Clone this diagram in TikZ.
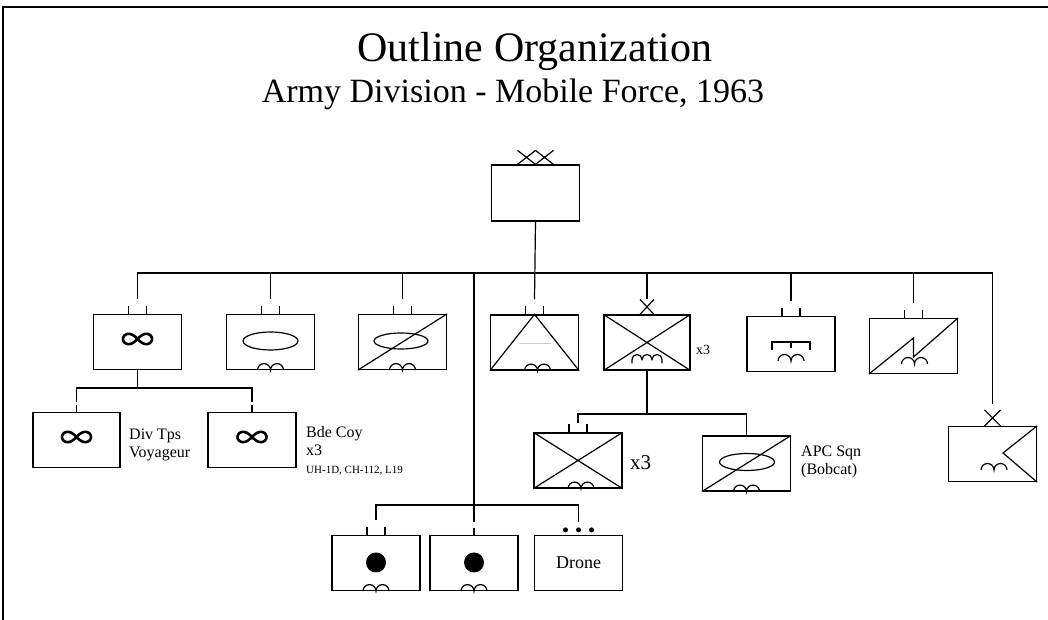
\documentclass[tikz,border=0pt]{standalone}
\usepackage{fontspec}
\setmainfont{Liberation Serif}
\usetikzlibrary{calc}

\tikzset{
  unit/.style={draw, line width=1.2pt, minimum width=88pt, minimum height=55pt, inner sep=0pt},
  link/.style={line width=1.2pt},
  note/.style={anchor=west, align=left, inner sep=0pt, font=\fontsize{16}{18}\selectfont},
}

% two small arches (wheels), offset from a node anchor
\newcommand{\wheels}[3]{%
  \draw[link] ($(#1)+(#2-13,#3)$) arc[start angle=180,end angle=0,radius=6.5]
    arc[start angle=180,end angle=0,radius=6.5];}
% aviation sign
\newcommand{\avnmark}[1]{%
  \draw[line width=2.6pt, shift={($(#1)+(0,3)$)}] plot[domain=0:360, samples=73, smooth]
    ({14.5*cos(\x)/(1+sin(\x)*sin(\x))}, {14.5*sin(\x)*cos(\x)/(1+sin(\x)*sin(\x))});}
% echelon marks on top of a box
\newcommand{\bnmark}[1]{%
  \draw[link] ($(#1.north)+(-9,0)$) -- ++(0,8) ($(#1.north)+(9,0)$) -- ++(0,8);}
\newcommand{\coymark}[1]{\draw[link] (#1.north) -- ++(0,7);}
\newcommand{\bdemark}[1]{%
  \draw[link] ($(#1.north)+(-7,0)$) -- ++(14,15) ($(#1.north)+(7,0)$) -- ++(-14,15);}

\begin{document}
\begin{tikzpicture}[x=1pt,y=1pt]
\useasboundingbox (0,0) rectangle (1048,620);
\draw[line width=2pt] (3,0) -- (3,613) -- (1048,613);

% titles
\node (t1) [font=\fontsize{42}{42}\selectfont, anchor=base] at (535,558) {Outline Organization};
\node (t2) [font=\fontsize{34}{34}\selectfont, anchor=base] at (513,517) {Army Division - Mobile Force, 1963};

% boxes
\node (hq) [unit, minimum height=56pt] at (535.5,427) {};
\node (a) [unit] at (137.5,278) {};
\node (b) [unit] at (270.5,278) {};
\node (c) [unit] at (402.5,278) {};
\node (d) [unit] at (534.5,277.5) {};
\node (e) [unit, minimum width=86pt] at (647,277.5) {};
\node (f) [unit] at (791,276) {};
\node (g) [unit] at (913.5,274) {};
\node (h) [unit] at (992.5,166) {};
\node (a1) [unit, minimum width=87pt] at (76.5,180) {};
\node (a2) [unit] at (252,180) {};
\node (e1) [unit] at (578,159.5) {};
\node (e2) [unit] at (746.5,156.5) {};
\node (r1) [unit] at (376,57) {};
\node (r2) [unit] at (474,57) {};
\node (r3) [unit, font=\fontsize{18}{18}\selectfont] at (578.5,57) {Drone};

% symbols
\avnmark{a}
\avnmark{a1}
\avnmark{a2}
\draw[link] ($(b)+(0,1)$) ellipse [x radius=27.5, y radius=9];
\wheels{b.south}{0}{0}
\draw[link] ($(c)+(-1.5,1)$) ellipse [x radius=27, y radius=8];
\draw[link] (c.south west) -- (c.north east);
\wheels{c.south}{0}{0}
\draw[link] (d.south west) -- (d.north) -- (d.south east);
\draw[gray!40] ($(d)+(-16,-1)$) -- ($(d)+(16,-1)$);
\wheels{d.south}{3}{0}
\draw[link] (e.south west) -- (e.north east) (e.north west) -- (e.south east);
\draw[link] ($(e)+(-15,-21)$) -- ++(0,4) arc[start angle=180,end angle=0,radius=5]
  arc[start angle=180,end angle=0,radius=5] arc[start angle=180,end angle=0,radius=5] -- ++(0,-4);
\draw[link] ($(f)+(-19,-6)$) -- ++(0,8) -- ++(38,0) -- ++(0,-8);
\draw[link] ($(f)+(0,2)$) -- ++(0,-6);
\wheels{f}{0}{-17}
\draw[link] (g.south west) -- ($(g)+(0,8)$) -- ($(g)+(0,-11)$) -- (g.north east);
\wheels{g}{1}{-18}
\draw[link] (h.north east) -- ($(h)+(10.5,1)$) -- (h.south east);
\wheels{h}{1.5}{-16}
\draw[link] (e1.south west) -- (e1.north east) (e1.north west) -- (e1.south east);
\wheels{e1.south}{3}{0}
\draw[link] ($(e2)+(0.5,1.5)$) ellipse [x radius=27.5, y radius=8.5];
\draw[link] (e2.south west) -- (e2.north east);
\wheels{e2.south}{0}{0}
\fill ($(r1)+(0,0.5)$) circle (10);
\wheels{r1.south}{0}{0}
\fill ($(r2)+(0,0.5)$) circle (10);
\wheels{r2.south}{0}{0}

% echelon marks
\draw[link] ($(hq.north)+(-18,0)$) -- ++(18,14) (hq.north) -- ++(-18,14)
  (hq.north) -- ++(18,14) ($(hq.north)+(18,0)$) -- ++(-18,14);
\foreach \n in {a,b,c,d,f,g,r1} {\bnmark{\n}}
\bdemark{e}
\draw[link] ($(h.north)+(-8,0)$) -- ++(16,16) ($(h.north)+(8,0)$) -- ++(-16,16);
\bnmark{e1}
\coymark{a1}
\coymark{a2}
\coymark{r2}
\foreach \dx in {-13,0,13} {\fill ($(r3.north)+(\dx,5)$) circle (2.5);}

% connector ends
\foreach \n in {a,b,c,d,f,g,r1} {\coordinate (\n-e) at ($(\n.north)+(0,15)$);}
\coordinate (e-e) at ($(e.north)+(0,15)$);
\coordinate (h-e) at ($(h.north)+(0,22)$);
\coordinate (e1-e) at ($(e1.north)+(0,9)$);
\coordinate (a1-e) at ($(a1.north)+(0,10)$);
\coordinate (a2-e) at ($(a2.north)+(0,10)$);
\coordinate (r2-e) at ($(r2.north)+(0,12.5)$);
\coordinate (r3-e) at ($(r3.north)+(0,13)$);
\coordinate (bus) at (992.5,347);
\coordinate (abus) at (137.5,232);
\coordinate (ebus) at (647,206);
\coordinate (rbus) at (474,115);

% connectors
\draw[link] (hq.south) -- (d-e);
\draw[link] (a-e) |- (bus) -- (h-e);
\foreach \n in {b,c,e,f,g} {\draw[link] (\n-e) -- (\n-e |- bus);}
\draw[link] (r2-e |- bus) -- (r2-e);
\draw[link] (r1-e) |- (r3-e |- rbus) -- (r3-e);
\draw[link] (a.south) -- (abus);
\draw[link] (a1-e) |- (a2-e |- abus) -- (a2-e);
\draw[link] (e.south) -- (ebus);
\draw[link] (e1-e) |- (e2.north |- ebus) -- (e2.north);

% labels
\node (l1) [note] at (129,175) {Div Tps\\Voyageur};
\node (l2) [note, anchor=north west] at (306,194) {Bde Coy\\x3\\{\fontsize{11}{12}\selectfont UH-1D, CH-112, L19}};
\node (l3) [note, font=\fontsize{14}{14}\selectfont] at (696,270) {x3};
\node (l4) [note, font=\fontsize{21}{21}\selectfont] at (630,157) {x3};
\node (l5) [note] at (801,158) {APC Sqn\\(Bobcat)};
\end{tikzpicture}
\end{document}
